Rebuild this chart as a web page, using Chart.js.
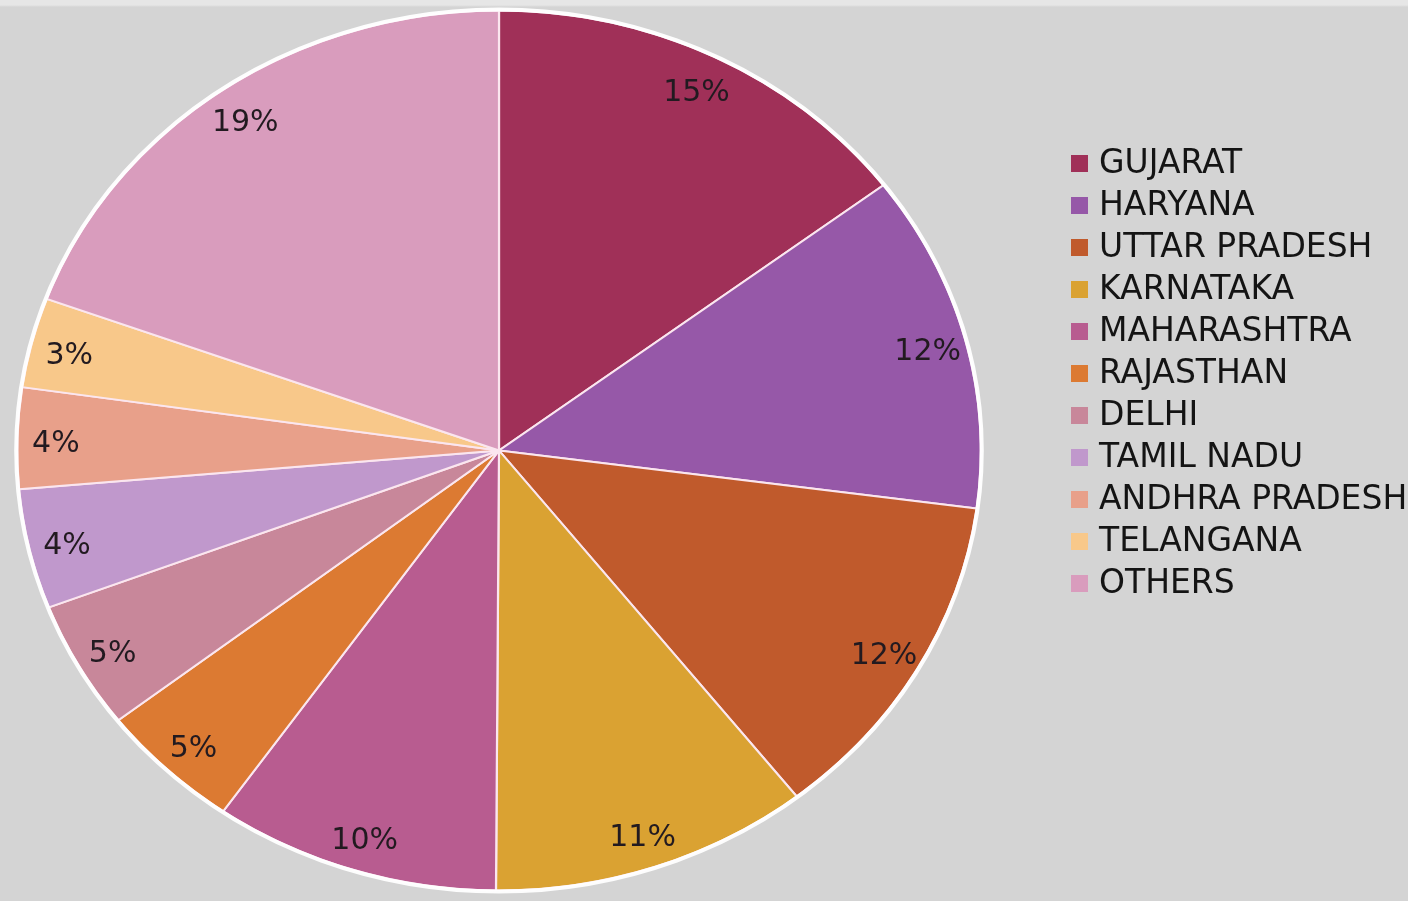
<!DOCTYPE html>
<html>
<head>
<meta charset="utf-8">
<script src="https://cdn.jsdelivr.net/npm/chart.js@4"></script>
<style>
  html, body { margin: 0; padding: 0; }
  body { background: linear-gradient(#e6e6e6 0px, #e6e6e6 5px, #d4d4d4 7px, #d4d4d4 100%); }
  #wrap { width: 1408px; height: 901px; position: relative; }
</style>
</head>
<body>
<div id="wrap"><canvas id="myChart"></canvas></div>
<script>
// state names (legend order = slice order, clockwise from 12 o'clock)
const states = [
  "GUJARAT", "HARYANA", "UTTAR PRADESH", "KARNATAKA", "MAHARASHTRA",
  "RAJASTHAN", "DELHI", "TAMIL NADU", "ANDHRA PRADESH", "TELANGANA", "OTHERS"
];

// share of each state, in percent
const shares = [14.7, 12.4, 12.3, 10.7, 9.6, 4.8, 4.7, 4.4, 3.7, 3.3, 19.4];

const sliceColors = [
  "#a03058", "#9658a8", "#c05a2c", "#daa232", "#b85c90",
  "#dc7a32", "#c8879a", "#c098cc", "#e8a08a", "#f8c88a", "#d99cbd"
];

const stretchX = 1.095; // the pie in the picture is a bit wider than tall
const fontName = '"DejaVu Sans", "Open Sans", sans-serif';

// squash/stretch the pie horizontally around its centre
const ellipsePie = {
  id: "ellipsePie",
  beforeDatasetsDraw(chart) {
    const arc = chart.getDatasetMeta(0).data[0];
    const ctx = chart.ctx;
    ctx.save();
    ctx.translate(arc.x, arc.y);
    ctx.scale(stretchX, 1);
    ctx.translate(-arc.x, -arc.y);
  },
  afterDatasetsDraw(chart) {
    const ctx = chart.ctx;
    ctx.restore();
    const arcs = chart.getDatasetMeta(0).data;
    const cx = arcs[0].x, cy = arcs[0].y, r = arcs[0].outerRadius;

    // white rim round the pie
    ctx.save();
    ctx.beginPath();
    ctx.ellipse(cx, cy, r * stretchX + 1, r + 1, 0, 0, Math.PI * 2);
    ctx.strokeStyle = "rgba(255,255,255,0.95)";
    ctx.lineWidth = 4;
    ctx.stroke();
    ctx.restore();

    // percent labels near the rim
    ctx.save();
    ctx.font = "30px " + fontName;
    ctx.fillStyle = "#221a20";
    ctx.textAlign = "center";
    ctx.textBaseline = "middle";
    arcs.forEach((a, i) => {
      const mid = (a.startAngle + a.endAngle) / 2;
      const d = r * 0.92;
      const x = cx + Math.cos(mid) * d * stretchX;
      const y = cy + Math.sin(mid) * d + 5;
      ctx.fillText(Math.round(shares[i]) + "%", x, y);
    });
    ctx.restore();
  }
};

// legend drawn by hand so it can sit where it is in the picture
const sideLegend = {
  id: "sideLegend",
  afterDraw(chart) {
    const ctx = chart.ctx;
    const colors = chart.data.datasets[0].backgroundColor;
    ctx.save();
    ctx.font = "33px " + fontName;
    ctx.textBaseline = "middle";
    ctx.textAlign = "left";
    chart.data.labels.forEach((name, i) => {
      const y = 163 + i * 42;
      ctx.fillStyle = colors[i];
      ctx.fillRect(1071, y - 8, 17, 17);
      ctx.fillStyle = "#141414";
      ctx.fillText(name, 1099, y + 1);
    });
    ctx.restore();
  }
};

const ctx = document.getElementById("myChart").getContext("2d");

const myChart = new Chart(ctx, {
  type: "pie",
  data: {
    labels: states,
    datasets: [
      {
        data: shares,
        backgroundColor: sliceColors,
        borderColor: "#fbe6ef",
        borderWidth: 2,
        clip: false,
      },
    ],
  },
  options: {
    responsive: true,
    maintainAspectRatio: false,
    animation: false,
    layout: {
      padding: { left: 58, right: 468, top: 8, bottom: 8 },
    },
    plugins: {
      legend: { display: false },
      tooltip: { enabled: false },
    },
  },
  plugins: [ellipsePie, sideLegend],
});
</script>
</body>
</html>
